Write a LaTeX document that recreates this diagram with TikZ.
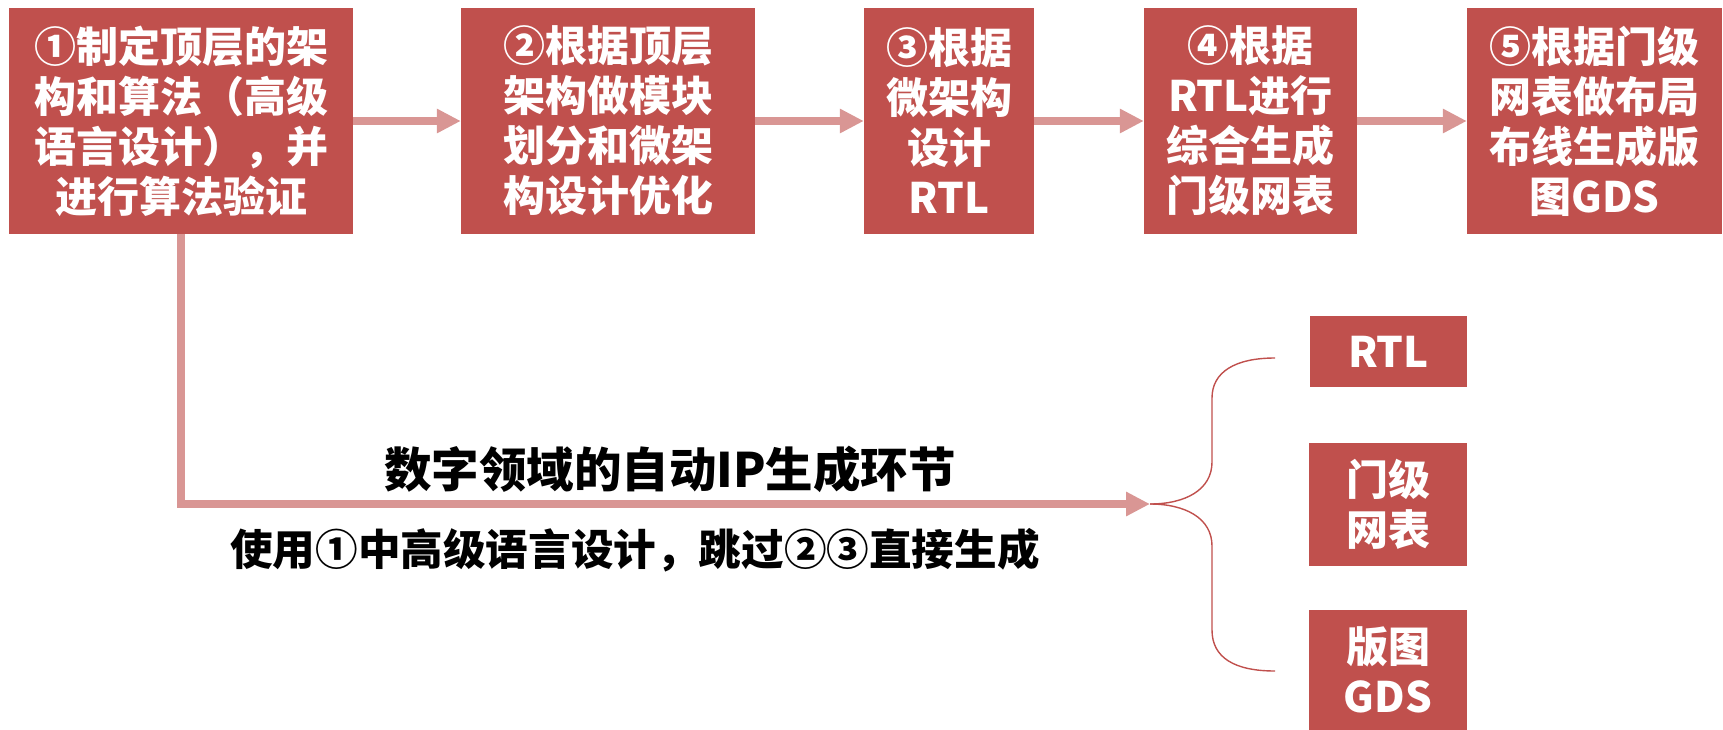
\documentclass[tikz,border=0pt]{standalone}
\usepackage{fontspec}
\setmainfont{Noto Sans CJK SC}
\usetikzlibrary{arrows.meta}
\definecolor{boxred}{HTML}{C0504D}
\definecolor{arrpink}{HTML}{D99694}
\tikzset{
  stepbox/.style={fill=boxred, draw=none, inner sep=0pt, text=white, align=center,
    font=\fontsize{42}{50}\selectfont\bfseries},
  flowarrow/.style={draw=arrpink, line width=7.5pt,
    -{Triangle[length=24pt,width=23pt]}},
  bracestyle/.style={draw=boxred, line width=1.4pt},
  lbl/.style={inner sep=0pt, text=black, font=\bfseries}
}
\begin{document}
\begin{tikzpicture}[x=1pt,y=-1pt]
\useasboundingbox (0,0) rectangle (1723,729);
% top boxes
\node[stepbox, minimum width=344pt, minimum height=226pt] (b1) at (181,121)
  {①制定顶层的架\\构和算法（高级\\语言设计），并\\进行算法验证};
\node[stepbox, minimum width=294pt, minimum height=226pt] (b2) at (608,121)
  {②根据顶层\\架构做模块\\划分和微架\\构设计优化};
\node[stepbox, minimum width=170pt, minimum height=226pt] (b3) at (949,121)
  {③根据\\微架构\\设计\\RTL};
\node[stepbox, minimum width=213pt, minimum height=226pt] (b4) at (1250.5,121)
  {④根据\\RTL进行\\综合生成\\门级网表};
\node[stepbox, minimum width=255pt, minimum height=226pt] (b5) at (1594.5,121)
  {⑤根据门级\\网表做布局\\布线生成版\\图GDS};
% bottom boxes
\node[stepbox, minimum width=157pt, minimum height=71pt] (r1) at (1388.5,351.5) {RTL};
\node[stepbox, minimum width=158pt, minimum height=123pt] (r2) at (1388,504.5) {门级\\网表};
\node[stepbox, minimum width=158pt, minimum height=121pt] (r3) at (1388,670) {版图\\GDS};
% arrows
\draw[flowarrow] (b1.east) -- (b2.west);
\draw[flowarrow] (b2.east) -- (b3.west);
\draw[flowarrow] (b3.east) -- (b4.west);
\draw[flowarrow] (b4.east) -- (b5.west);
\coordinate (tip) at (1150,504);
\draw[flowarrow] (b1.south) |- (tip);
% brace
\coordinate (btop) at (1275,358);
\coordinate (bbot) at (1275,671);
\draw[bracestyle] (btop) .. controls (1235,358) and (1212,372) .. (1212,398)
  -- (1212,462) .. controls (1212,490) and (1185,504) .. (tip);
\draw[bracestyle] (tip) .. controls (1185,504) and (1212,518) .. (1212,546)
  -- (1212,630) .. controls (1212,658) and (1235,671) .. (bbot);
% labels
\node[lbl, font=\fontsize{47.5}{50}\selectfont\bfseries] (t1) at (670,469) {数字领域的自动IP生成环节};
\node[lbl, font=\fontsize{42.6}{50}\selectfont\bfseries] (t2) at (635,550) {使用①中高级语言设计，跳过②③直接生成};
\end{tikzpicture}
\end{document}
